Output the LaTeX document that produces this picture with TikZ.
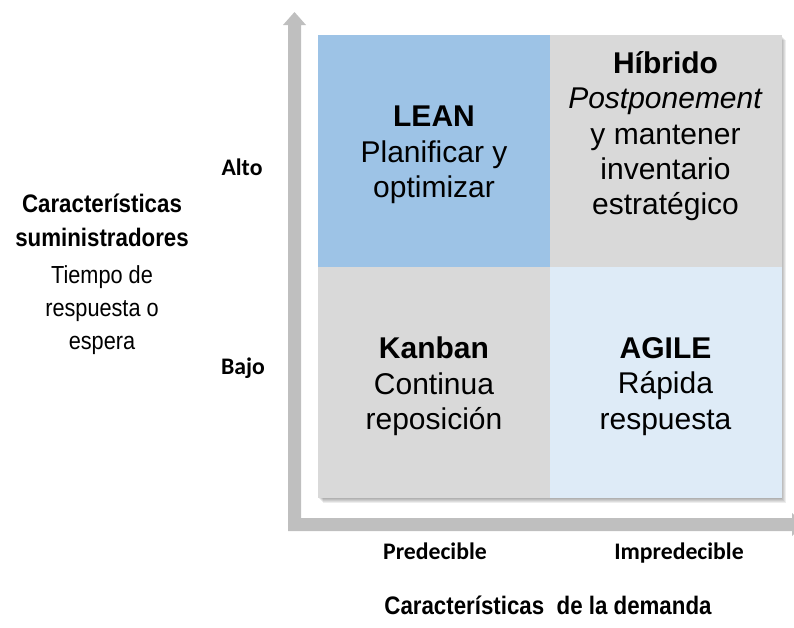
\documentclass[tikz,border=0pt]{standalone}
\usepackage{fontspec}
\setmainfont{Liberation Sans}
\newfontfamily\calfont{Carlito}
\newfontfamily\narrowfont[FakeStretch=0.88]{Liberation Sans}
\definecolor{leanblue}{HTML}{9DC3E6}
\definecolor{quadgray}{HTML}{D9D9D9}
\definecolor{agileblue}{HTML}{DEEBF7}
\definecolor{axisgray}{HTML}{BFBFBF}
\tikzset{
  quad/.style={minimum width=174pt, minimum height=173.5pt, inner sep=0pt},
  quadtext/.style={align=center, yshift=-3pt, font=\fontsize{22.5pt}{26.5pt}\selectfont},
  level/.style={anchor=base, font=\calfont\bfseries\fontsize{17.8pt}{20pt}\selectfont},
  axistitle/.style={font=\narrowfont\bfseries\fontsize{19pt}{25.5pt}\selectfont, align=center},
}
\begin{document}
\begin{tikzpicture}[x=0.75pt,y=-0.75pt]
    \useasboundingbox (0,0) rectangle (794,628);
    \clip (0,0) rectangle (794,628);
    % L-shaped axis
    \fill[axisgray] (288,531) -- (288,25) -- (283,25) -- (294.5,12) -- (306,25) -- (301,25)
        -- (301,518) -- (792,518) -- (792,513) -- (805,524.5) -- (792,536) -- (792,531) -- cycle;

\foreach \s in {1,...,5}
    \fill[black,opacity=0.07] (318+\s,35+\s) rectangle (781+\s,498+\s);

    \node [quad, fill=leanblue](lean) at (434,151) {};
    \node [quad, fill=quadgray](hibrido) at (665.5,151) {};
    \node [quad, fill=quadgray](kanban) at (434,382.5) {};
    \node [quad, fill=agileblue](agile) at (665.5,382.5) {};

    \node [quadtext](leantxt) at (lean) {\textbf{LEAN}\\Planificar y\\optimizar};
    \node [quadtext, yshift=14pt](hibtxt) at (hibrido) {\textbf{Híbrido}\\\textit{Postponement}\\y mantener\\inventario\\estratégico};
    \node [quadtext](kanbantxt) at (kanban) {\textbf{Kanban}\\Continua\\reposición};
    \node [quadtext](agiletxt) at (agile) {\textbf{AGILE}\\Rápida\\respuesta};

    \node [level](alto) at (242,175) {Alto};
    \node [level](bajo) at (243,374) {Bajo};
    \node [level](pred) at (435,559) {Predecible};
    \node [level](impred) at (679,559) {Impredecible};

    \node [axistitle](sumin) at (102,220) {Características\\suministradores};
    \node [align=center, font=\narrowfont\fontsize{18.5pt}{25pt}\selectfont](tiempo) at (102,310) {Tiempo de\\respuesta o\\espera};
    \node [axistitle](demanda) at (548,605) {Características\ \ de la demanda};
\end{tikzpicture}
\end{document}
